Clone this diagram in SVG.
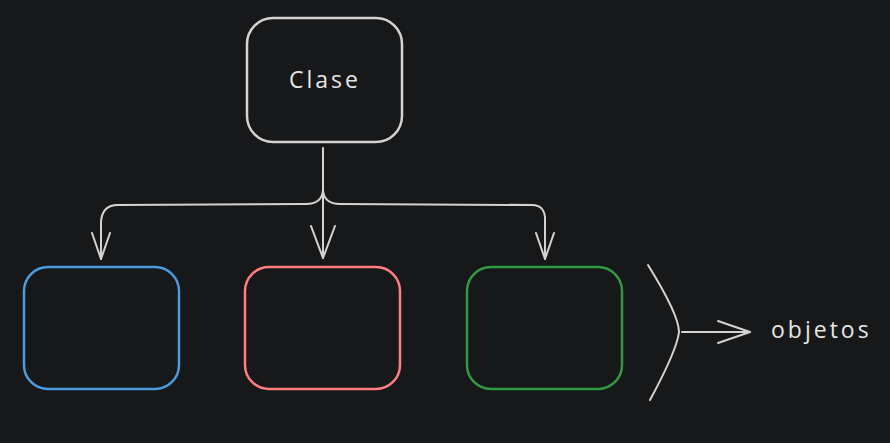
<svg xmlns="http://www.w3.org/2000/svg" width="890" height="443" viewBox="0 0 890 443">
<defs>
<style>
.box{fill:none;stroke-width:2.5;stroke-linejoin:round}
.ln{fill:none;stroke:#d3d3d3;stroke-width:2;stroke-linecap:round;stroke-linejoin:round}
.t{font-family:"Open Sans","DejaVu Sans",sans-serif;font-size:23px;letter-spacing:3px;fill:#e6e6e6}
</style>
</defs>
<rect width="890" height="443" fill="#17181a"/>
<g id="clase">
<rect class="box" x="247" y="18" width="155" height="124" rx="26" stroke="#d3d3d3"/>
<text class="t" x="289" y="88">Clase</text>
</g>
<g id="obj-blue">
<rect class="box" x="24" y="267" width="155" height="122" rx="24" stroke="#4a9be0"/>
</g>
<g id="obj-red">
<rect class="box" x="245" y="267" width="155" height="122" rx="24" stroke="#ff7f7f"/>
</g>
<g id="obj-green">
<rect class="box" x="467" y="267" width="155" height="122" rx="24" stroke="#2f9a44"/>
</g>
<g id="connectors">
<path class="ln" d="M323 148 L323 258"/>
<path class="ln" d="M311 226 L323 258 L335 226"/>
<path class="ln" d="M323 190 Q322 204 306 204 L118 205 Q102 205 101 222 L101 259"/>
<path class="ln" d="M92 233 L101 259 L110 233"/>
<path class="ln" d="M323 190 Q324 204 340 204 L532 205 Q546 205 545 222 L545 259"/>
<path class="ln" d="M536 233 L545 259 L554 233"/>
<path class="ln" d="M648 265 Q679 315 679 332 Q677 350 650 400"/>
<path class="ln" d="M682 332 L750 332"/>
<path class="ln" d="M718 321 L750 332 L718 343"/>
</g>
<g id="label-objetos">
<text class="t" x="771" y="338">objetos</text>
</g>
</svg>
